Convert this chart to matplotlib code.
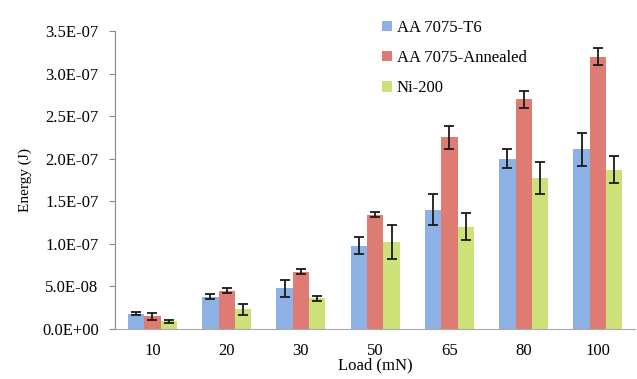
import numpy as np
import matplotlib
matplotlib.use("Agg")
import matplotlib.pyplot as plt

plt.rcParams['font.family'] = ['Liberation Serif', 'DejaVu Serif']

loads = ['10', '20', '30', '50', '65', '80', '100']
series = ['AA 7075-T6', 'AA 7075-Annealed', 'Ni-200']

t6 = [1.8e-8, 3.8e-8, 4.8e-8, 9.8e-8, 1.40e-7, 2.0e-7, 2.11e-7]
t6_err = [0.2e-8, 0.3e-8, 1.0e-8, 1.0e-8, 1.8e-8, 1.1e-8, 1.9e-8]
annealed = [1.5e-8, 4.5e-8, 6.7e-8, 1.34e-7, 2.25e-7, 2.70e-7, 3.20e-7]
annealed_err = [0.4e-8, 0.3e-8, 0.3e-8, 0.3e-8, 1.3e-8, 1.0e-8, 1.0e-8]
ni200 = [0.9e-8, 2.3e-8, 3.6e-8, 1.02e-7, 1.20e-7, 1.77e-7, 1.87e-7]
ni200_err = [0.15e-8, 0.6e-8, 0.3e-8, 2.0e-8, 1.6e-8, 1.9e-8, 1.6e-8]

colors = ['#8FB2E6', '#DE7C74', '#CCE178']

fig = plt.figure(figsize=(6.37, 3.79), dpi=100)
ax = fig.add_axes([0.181, 0.132, 0.816, 0.786])

x = np.arange(len(loads))
w = 0.22
for i, (vals, errs) in enumerate([(t6, t6_err), (annealed, annealed_err), (ni200, ni200_err)]):
    ax.bar(x + (i - 1) * w, vals, w, color=colors[i], label=series[i],
           yerr=errs, capsize=3.5,
           error_kw=dict(ecolor='#1a1a1a', elinewidth=1.3, capthick=1.3))

yt = np.arange(0, 3.51e-7, 0.5e-7)
ax.set_xlim(-0.5, len(loads) - 0.5)
ax.set_ylim(0, 3.5e-7)
ax.set_yticks(yt)
ax.set_yticklabels([f'{v:.1E}' for v in yt])
ax.set_xticks(x)
ax.set_xticklabels(loads)
ax.tick_params(axis='y', labelsize=12, length=4, color='#888888', pad=8)
ax.tick_params(axis='x', labelsize=12, length=0, pad=10)

for s in ['top', 'right']:
    ax.spines[s].set_visible(False)
ax.spines['left'].set_color('#888888')
ax.spines['bottom'].set_color('#aaaaaa')

ax.set_xlabel('Load (mN)', fontsize=12, labelpad=-1)
ax.set_ylabel('Energy (J)', fontsize=11, labelpad=7)

ax.legend(loc='upper left', bbox_to_anchor=(0.5, 1.06), frameon=False,
          fontsize=12, handlelength=0.6, handleheight=0.6, handletextpad=0.3,
          labelspacing=0.85, borderaxespad=0)

fig.savefig('out.png', dpi=100)
